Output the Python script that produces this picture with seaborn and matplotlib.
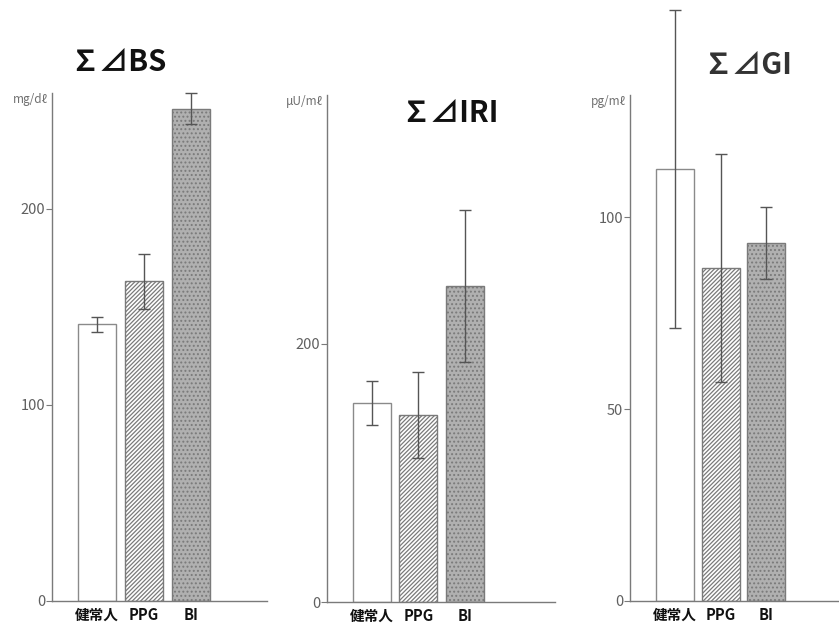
import matplotlib
matplotlib.use("Agg")
import matplotlib.pyplot as plt
import seaborn as sns
import numpy as np

sns.set_style("ticks")
plt.rcParams['font.family'] = ['Noto Sans CJK JP', 'DejaVu Sans']
plt.rcParams['hatch.linewidth'] = 0.9

categories = ["健常人", "PPG", "BI"]

bs_mean = [141, 163, 251]
bs_err = [4, 14, 8]
iri_mean = [154, 145, 245]
iri_err = [17, 33, 59]
gi_mean = [112.5, 86.7, 93.2]
gi_err = [41.5, 29.7, 9.4]

titles = ["∑⊿BS", "∑⊿IRI", "∑⊿GI"]
units = ["mg/dℓ", "μU/mℓ", "pg/mℓ"]
yticks = [[0, 100, 200], [0, 200], [0, 50, 100]]

fig = plt.figure(figsize=(8.39, 6.28), dpi=100)

# axes rectangles (figure fraction)
rects = [
    [52/839, 27/628, 215/839, 508/628],
    [327/839, 26/628, 228/839, 507/628],
    [630/839, 27/628, 209/839, 506/628],
]
ylims = [(0, 259), (0, 393), (0, 131.8)]
xlims = [(-0.957, 3.62), (-0.968, 3.94), (-0.99, 3.6)]
widths = [0.81, 0.82, 0.835]

face = ["white", "white", "#b0b0b0"]
hatches = [None, "////////", "...."]
edge = ["#8a8a8a", "#7a7a7a", "#7a7a7a"]

data = [(bs_mean, bs_err), (iri_mean, iri_err), (gi_mean, gi_err)]
axcol = "#7a7a7a"

for i, (m, e) in enumerate(data):
    ax = fig.add_axes(rects[i])
    sns.barplot(x=categories, y=m, hue=categories, palette=face, legend=False,
                ax=ax, width=widths[i], saturation=1, errorbar=None)
    for j, p in enumerate(ax.patches):
        p.set_edgecolor(edge[j])
        p.set_linewidth(1.0)
        if hatches[j]:
            p.set_hatch(hatches[j])
    eb = ax.errorbar(x=np.arange(3), y=m, yerr=e, fmt="none", ecolor="#555555",
                     elinewidth=1.0, capsize=4.5, capthick=1.0, zorder=5)
    for child in eb.get_children():
        child.set_clip_on(False)
    ax.set_xlim(*xlims[i])
    ax.set_ylim(*ylims[i])
    ax.set_yticks(yticks[i])
    ax.tick_params(axis="y", direction="out", length=4, width=0.8,
                   colors=axcol, labelsize=10.5, labelcolor="#606060", pad=1)
    ax.tick_params(axis="x", length=0, pad=4)
    for lab in ax.get_xticklabels():
        lab.set_fontweight("bold")
        lab.set_fontsize(10.5)
        lab.set_color("#111111")
    sns.despine(ax=ax)
    for s in ["left", "bottom"]:
        ax.spines[s].set_color(axcol)
        ax.spines[s].set_linewidth(1.0)
    ax.set_ylabel("")
    ax.set_facecolor("none")
    ax.text(-0.02, 1.0, units[i], transform=ax.transAxes, ha="right", va="top",
            fontsize=8.5, color="#707070")

fig.text(118/839, 1 - 62/628, titles[0], ha="center", va="center",
         fontsize=21, fontweight="bold", color="#111111")
fig.text(450/839, 1 - 113/628, titles[1], ha="center", va="center",
         fontsize=21, fontweight="bold", color="#111111")
fig.text(748/839, 1 - 65/628, titles[2], ha="center", va="center",
         fontsize=21, fontweight="bold", color="#333333")

fig.savefig("out.png", dpi=100)
